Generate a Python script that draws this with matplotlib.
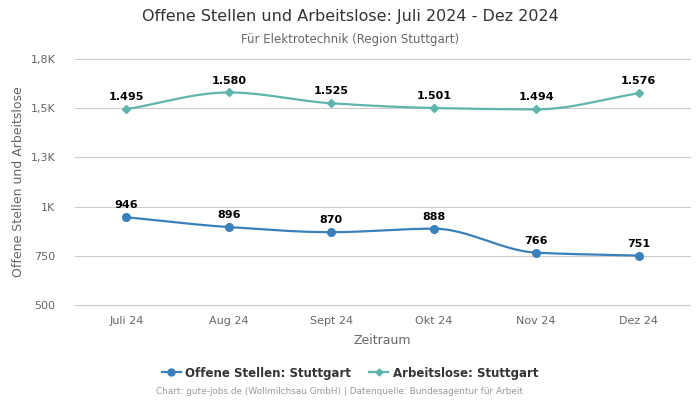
import numpy as np
import matplotlib
matplotlib.use("Agg")
import matplotlib.pyplot as plt
from matplotlib.lines import Line2D

categories = ["Juli 24", "Aug 24", "Sept 24", "Okt 24", "Nov 24", "Dez 24"]
offene = [946, 896, 870, 888, 766, 751]
arbeitslose = [1495, 1580, 1525, 1501, 1494, 1576]
yticks = [500, 750, 1000, 1250, 1500, 1750]
ytick_labels = ["500", "750", "1K", "1,3K", "1,5K", "1,8K"]

def pchip(x, y, n=40):
    x = np.asarray(x, float); y = np.asarray(y, float)
    h = np.diff(x); d = np.diff(y) / h
    m = np.zeros_like(y)
    for k in range(1, len(y) - 1):
        if d[k-1] * d[k] <= 0:
            m[k] = 0
        else:
            w1 = 2*h[k] + h[k-1]; w2 = h[k] + 2*h[k-1]
            m[k] = (w1 + w2) / (w1/d[k-1] + w2/d[k])
    m[0] = d[0]; m[-1] = d[-1]
    xs, ys = [], []
    for k in range(len(x) - 1):
        t = np.linspace(0, 1, n)
        h00 = 2*t**3 - 3*t**2 + 1; h10 = t**3 - 2*t**2 + t
        h01 = -2*t**3 + 3*t**2; h11 = t**3 - t**2
        xs.append(x[k] + t*h[k])
        ys.append(h00*y[k] + h10*h[k]*m[k] + h01*y[k+1] + h11*h[k]*m[k+1])
    return np.concatenate(xs), np.concatenate(ys)

fig = plt.figure(figsize=(7, 4), dpi=100)
ax = fig.add_axes([75/700, 95/400, 615/700, 246/400])

blue = "#3a80ba"
teal = "#5db5ae"
xi = np.arange(len(categories))

for vals, col, mk, ms in [(offene, blue, "o", 5.5), (arbeitslose, teal, "D", 4)]:
    sx, sy = pchip(xi, vals)
    ax.plot(sx, sy, color=col, lw=1.6, zorder=3)
    ax.plot(xi, vals, linestyle="none", marker=mk, color=col, ms=ms, zorder=4)
    for x, v in zip(xi, vals):
        ax.annotate(f"{v:,}".replace(",", "."), (x, v), xytext=(0, 5), textcoords="offset points",
                    ha="center", va="bottom", fontsize=8, fontweight="bold", color="black", zorder=5)

ax.set_xlim(-0.5, len(categories) - 0.5)
ax.set_ylim(500, 1750)
ax.set_yticks(yticks)
ax.set_yticklabels(ytick_labels)
ax.set_xticks(xi)
ax.set_xticklabels(categories)
ax.grid(axis="y", color="#cccccc", lw=0.8)
for gl in ax.get_ygridlines():
    gl.set_clip_on(False)
ax.set_axisbelow(True)
for s in ax.spines.values():
    s.set_visible(False)
ax.tick_params(axis="both", length=0, labelsize=8, colors="#666666", pad=8)
ax.tick_params(axis="y", pad=14)
ax.set_xlabel("Zeitraum", fontsize=9, color="#666666", labelpad=6)
ax.set_ylabel("Offene Stellen und Arbeitslose", fontsize=9, color="#666666", labelpad=4)

fig.text(0.5, 1 - 17/400, "Offene Stellen und Arbeitslose: Juli 2024 - Dez 2024", ha="center", va="center",
         fontsize=11.5, color="#333333")
fig.text(0.5, 1 - 39/400, "Für Elektrotechnik (Region Stuttgart)", ha="center", va="center",
         fontsize=8.5, color="#666666")

handles = [Line2D([], [], color=blue, marker="o", ms=5, lw=1.6),
           Line2D([], [], color=teal, marker="D", ms=3.5, lw=1.6)]
fig.legend(handles, ["Offene Stellen: Stuttgart", "Arbeitslose: Stuttgart"], loc="center",
           bbox_to_anchor=(0.5, 1 - 373/400), ncol=2, frameon=False,
           prop={"size": 8.5, "weight": "bold"}, labelcolor="#333333", handlelength=1.6,
           handletextpad=0.4, columnspacing=1.5)
fig.text(340/700, 1 - 392/400, "Chart: gute-jobs.de (Wollmilchsau GmbH) | Datenquelle: Bundesagentur für Arbeit",
         ha="center", va="center", fontsize=6.4, color="#999999")

fig.savefig("out.png", dpi=100)
